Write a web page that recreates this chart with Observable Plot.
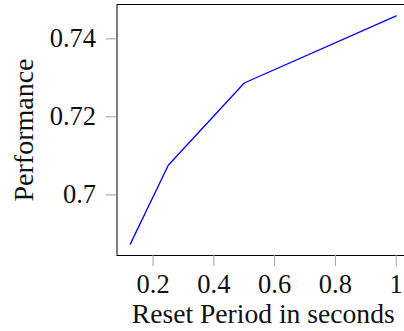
<!DOCTYPE html>
<html>
<head>
<meta charset="utf-8">
<script src="https://cdn.jsdelivr.net/npm/d3@7"></script>
<script src="https://cdn.jsdelivr.net/npm/@observablehq/plot@0.6"></script>
<style>
  html, body { margin: 0; padding: 0; background: #fff; }
  #chart svg { display: block; }
</style>
</head>
<body>
<div id="chart"></div>
<script>
const resetPeriod = [0.125, 0.25, 0.5, 1];
const performance = [0.687, 0.7072, 0.7283, 0.7455];
const xTicks = [0.2, 0.4, 0.6, 0.8, 1];
const yTicks = [0.70, 0.72, 0.74];
const xLabel = "Reset Period in seconds";
const yLabel = "Performance";

const data = resetPeriod.map((x, i) => ({x, y: performance[i]}));

const font = "'Liberation Serif', 'Times New Roman', serif";

const chart = Plot.plot({
  width: 404,
  height: 331,
  marginLeft: 116.5,
  marginTop: 4,
  marginBottom: 76,
  marginRight: -5,
  style: {fontFamily: font, fontSize: "26.5px", background: "#fff", color: "#111"},
  x: {domain: [0.08125, 1.04375]},
  y: {domain: [0.68408, 0.74842]},
  marks: [
    Plot.line(data, {x: "x", y: "y", stroke: "#0000ff", strokeWidth: 1.3}),
    Plot.frame({stroke: "#000", strokeWidth: 1}),
    Plot.axisX({
      ticks: xTicks, tickFormat: d => String(d), tickSize: 11, tickPadding: 7.2,
      stroke: "#a0a0a0", fill: "#111", fontSize: 26.5, label: null
    }),
    Plot.axisX({
      ticks: [], tickSize: 0, label: xLabel, labelAnchor: "center", labelArrow: false,
      labelOffset: 67.4, fill: "#111", fontSize: 27.6
    }),
    Plot.axisY({
      ticks: yTicks, tickFormat: d => String(d), tickSize: 11, tickPadding: 10, dy: 1.5,
      stroke: "#a0a0a0", fill: "#111", fontSize: 26.5, label: null
    }),
    Plot.axisY({
      ticks: [], tickSize: 0, label: yLabel, labelAnchor: "center", labelArrow: false,
      labelOffset: 104, fill: "#111", fontSize: 28
    })
  ]
});
document.getElementById("chart").appendChild(chart);
</script>
</body>
</html>
